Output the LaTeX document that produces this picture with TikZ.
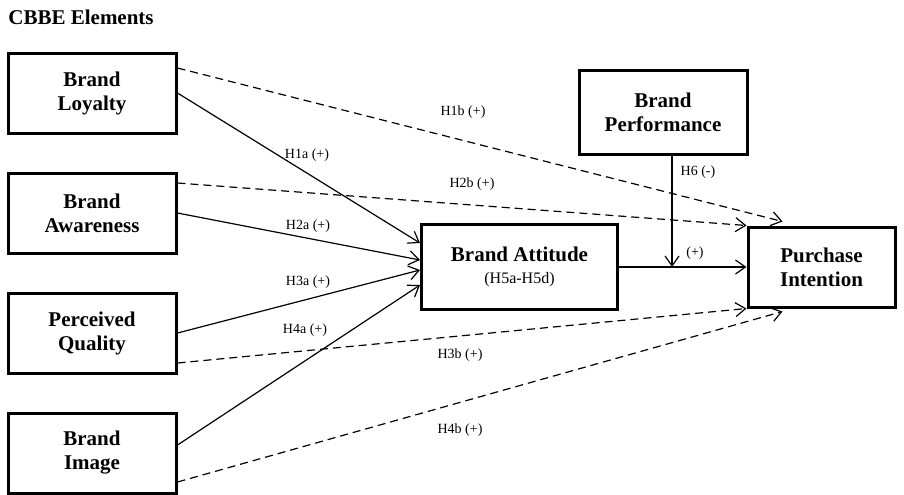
\documentclass[tikz,border=0pt]{standalone}
\usepackage{fontspec}
\setmainfont{Liberation Serif}
\usetikzlibrary{arrows.meta, positioning}
\tikzset{
    construct/.style={rectangle, draw, line width=1.5pt, align=center, minimum width=84pt, minimum height=40pt, inner sep=2pt, font=\fontsize{10.5}{12}\selectfont\bfseries},
    arrow/.style={-{Straight Barb[length=5pt, width=7pt]}, line width=0.6pt},
    dashedarrow/.style={arrow, dash pattern=on 4pt off 2.5pt},
    hyp/.style={font=\fontsize{7}{8}\selectfont, inner sep=1pt},
}
\begin{document}
\begin{tikzpicture}[x=0.5pt, y=-0.5pt, node distance=18.5pt]
    \useasboundingbox (0,0) rectangle (904,494);
    % Heading
    \node[anchor=west, inner sep=0pt, font=\fontsize{10.5}{12}\selectfont\bfseries] (title) at (8,17) {CBBE Elements};

    % CBBE elements
    \node[construct] (loyalty) at (92,93) {Brand\\Loyalty};
    \node[construct, below=of loyalty] (awareness) {Brand\\Awareness};
    \node[construct, below=of awareness] (quality) {Perceived\\Quality};
    \node[construct, below=of quality] (image) {Brand\\Image};

    % Mediator, moderator and outcome
    \node[construct, minimum width=98pt, minimum height=42.5pt] (attitude) at (519.5,267) {Brand Attitude\\[-1pt]{\fontsize{8}{9}\selectfont\mdseries (H5a-H5d)}};
    \node[construct, minimum height=42pt] (performance) at (663,112.5) {Brand\\Performance};
    \node[construct, minimum width=73.5pt] (purchase) at (821.5,267) {Purchase\\Intention};

    % Effects on brand attitude
    \draw[arrow] (loyalty.east) -- ([yshift=12pt]attitude.west);
    \draw[arrow] (awareness.east) -- ([yshift=3.5pt]attitude.west);
    \draw[arrow] (quality.east) -- ([yshift=-1.5pt]attitude.west);
    \draw[arrow] ([yshift=4pt]image.east) -- ([yshift=-9pt]attitude.west);

    % Direct effects on purchase intention
    \draw[dashedarrow] ([yshift=12.5pt]loyalty.east) -- ([shift={(18pt,2pt)}]purchase.north west);
    \draw[dashedarrow] ([yshift=15pt]awareness.east) -- (purchase.north west);
    \draw[dashedarrow] ([yshift=-15pt]quality.east) -- (purchase.south west);
    \draw[dashedarrow] ([yshift=-14.5pt]image.east) -- ([shift={(18pt,-1.5pt)}]purchase.south west);

    % Mediation and moderation
    \draw[arrow] (attitude.east) -- (purchase.west);
    \draw[arrow] ([xshift=4.5pt]performance.south) -- ([xshift=4.5pt]performance.south |- attitude.east);

    % Hypothesis labels
    \node[hyp] (h1b) at (463,112) {H1b (+)};
    \node[hyp] (h1a) at (307,155) {H1a (+)};
    \node[hyp] (h2b) at (472,184) {H2b (+)};
    \node[hyp] (h2a) at (308,226) {H2a (+)};
    \node[hyp] (h3a) at (308,282) {H3a (+)};
    \node[hyp] (h4a) at (305,330) {H4a (+)};
    \node[hyp] (h3b) at (460,355) {H3b (+)};
    \node[hyp] (h4b) at (460,430) {H4b (+)};
    \node[hyp] (h6) at (698,172) {H6 (-)};
    \node[hyp] (mod) at (695,253) {(+)};
\end{tikzpicture}
\end{document}
